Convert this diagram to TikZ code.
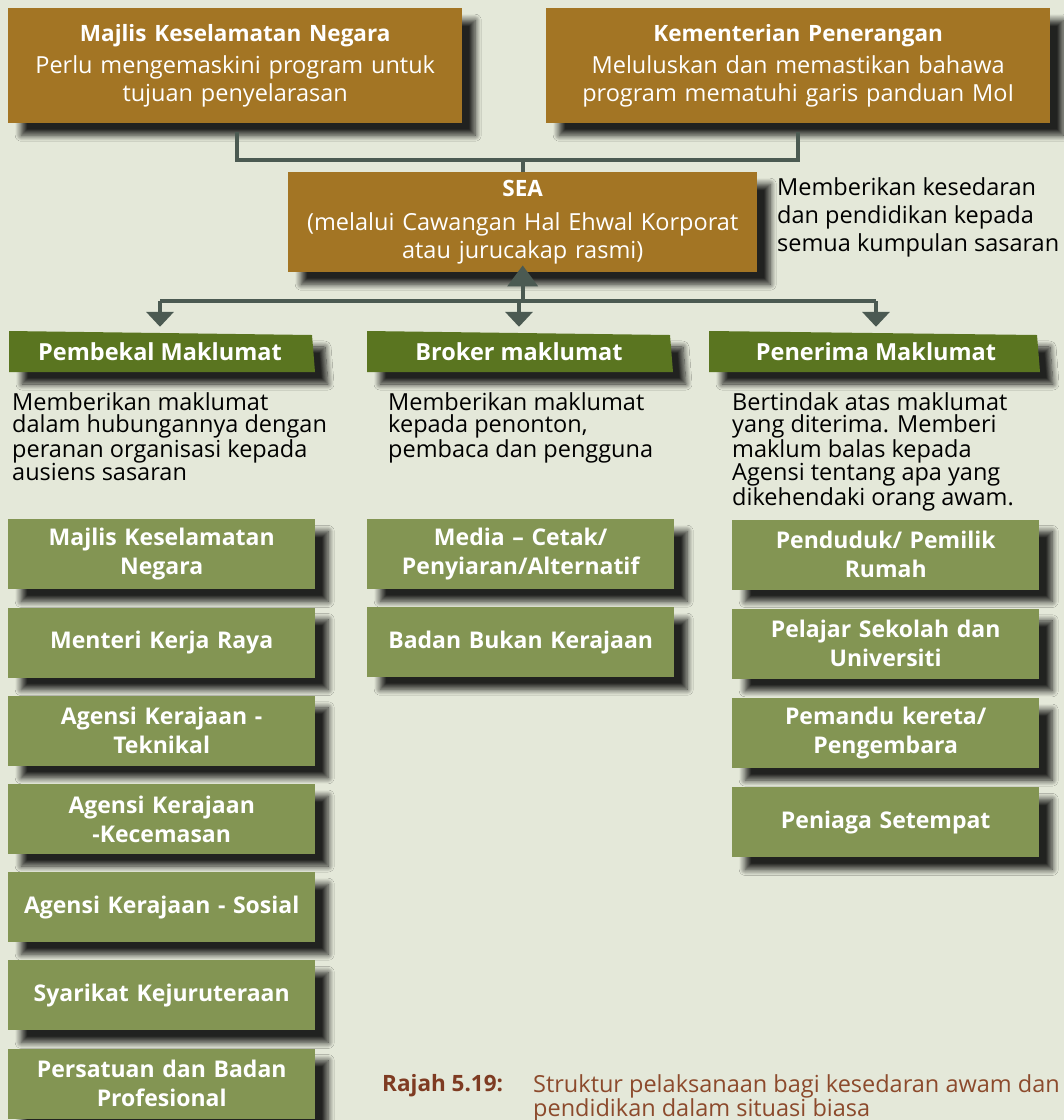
\documentclass[tikz,border=0pt]{standalone}
\usepackage{fontspec}
\setmainfont{Open Sans}
\usetikzlibrary{positioning,shadows.blur,arrows.meta}

\definecolor{bgcol}{HTML}{E4E8D9}
\definecolor{boxbrown}{HTML}{A37524}
\definecolor{hdrgreen}{HTML}{5A7520}
\definecolor{boxgreen}{HTML}{839553}
\definecolor{linecol}{HTML}{4B5A52}
\definecolor{capbrown}{HTML}{7E3B22}
\definecolor{captext}{HTML}{8C4A2C}

\tikzset{
  shade/.style={blur shadow={shadow xshift=13pt,shadow yshift=-12pt,
      shadow blur radius=6pt,shadow blur steps=10,shadow opacity=85}},
  topbox/.style={fill=boxbrown,text=white,align=center,anchor=north west,
      inner xsep=5pt,inner ysep=0pt,font=\fontsize{23.5}{28}\selectfont,shade},
  gbox/.style={fill=boxgreen,text=white,align=center,anchor=north west,
      text width=297pt,inner xsep=5pt,inner ysep=0pt,minimum height=70pt,
      font=\bfseries\fontsize{23}{29}\selectfont,shade},
  hdr/.style={text=white,inner sep=0pt,minimum height=41pt,
      font=\bfseries\fontsize{23.5}{26}\selectfont},
  desc/.style={anchor=north west,align=left,inner sep=0pt,
      font=\fontsize{23.5}{22.5}\selectfont},
  conn/.style={draw=linecol,line width=4pt},
  arr/.style={conn,-{Triangle[width=27pt,length=15pt]}},
}

\begin{document}
\begin{tikzpicture}[x=1pt,y=-1pt]
  \fill[bgcol] (0,0) rectangle (1064,1120);
  \useasboundingbox (0,0) rectangle (1064,1120);

  % top level
  \node[topbox,text width=444pt,minimum height=115pt] (mkn) at (8,8)
    {{\bfseries\fontsize{22.5}{28}\selectfont Majlis Keselamatan Negara}\\[4pt]
     Perlu mengemaskini program untuk\\ tujuan penyelarasan};
  \node[topbox,text width=494pt,minimum height=115pt] (kp) at (546,8)
    {{\bfseries\fontsize{22.5}{28}\selectfont Kementerian Penerangan}\\[4pt]
     Meluluskan dan memastikan bahawa\\ program mematuhi garis panduan MoI};
  \node[topbox,text width=459pt,minimum height=100pt] (sea) at (288,172)
    {{\bfseries\fontsize{22.5}{28}\selectfont SEA}\\[6pt]
     (melalui Cawangan Hal Ehwal Korporat\\ atau jurucakap rasmi)};
  \node[desc,font=\fontsize{23.5}{28}\selectfont] (seanote) at (777,177)
    {Memberikan kesedaran\\ dan pendidikan kepada\\ semua kumpulan sasaran};

  \draw[conn] ([xshift=2pt,yshift=-9pt]mkn.south) -- ++(0,28)
    -| ([yshift=-9pt]kp.south);
  \draw[conn] (sea.north |- 0,160) -- (sea.north);

  % headers
  \fill[hdrgreen,shade] (9,331) -- (312,335) -- (315,372) -- (9,372) -- cycle;
  \fill[hdrgreen,shade] (367,331) -- (670,335) -- (673,372) -- (367,372) -- cycle;
  \fill[hdrgreen,shade] (709,331) -- (1037,335) -- (1040,372) -- (709,372) -- cycle;
  \node[hdr] (pembekal) at (160,351.5) {Pembekal Maklumat};
  \node[hdr] (broker) at (519,351.5) {Broker maklumat};
  \node[hdr] (penerima) at (876,351.5) {Penerima Maklumat};

  \coordinate (barL) at (160,301);
  \coordinate (barR) at (876,301);
  \draw[conn] (barL) -- (barR);
  \draw[conn,-{Triangle[width=30pt,length=21pt]}] (sea.south |- barL)
    -- ([yshift=7pt]sea.south);
  \foreach \n in {pembekal,broker,penerima}
    \draw[arr] (\n.north |- barL) -- ([yshift=4pt]\n.north);

  % descriptions
  \node[desc] (descA) at (12,392)
    {Memberikan maklumat\\ dalam hubungannya dengan\\ peranan organisasi kepada\\ ausiens sasaran};
  \node[desc] (descB) at (388,392)
    {Memberikan maklumat\\ kepada penonton,\\ pembaca dan pengguna};
  \node[desc] (descC) at (732,392)
    {Bertindak atas maklumat\\ yang diterima. Memberi\\ maklum balas kepada\\ Agensi tentang apa yang\\ dikehendaki orang awam.};

  % columns
  \foreach \t [count=\i] in {{Majlis Keselamatan\\ Negara},{Menteri Kerja Raya},
      {Agensi Kerajaan -\\ Teknikal},{Agensi Kerajaan\\ -Kecemasan},
      {Agensi Kerajaan - Sosial},{Syarikat Kejuruteraan},
      {Persatuan dan Badan\\ Profesional}}
    \node[gbox] (pem\i) at (8,{431+88.2*\i}) {\t};
  \foreach \t [count=\i] in {{Media -- Cetak/\\ Penyiaran/Alternatif},
      {Badan Bukan Kerajaan}}
    \node[gbox] (bro\i) at (367,{431+88*\i}) {\t};
  \foreach \t [count=\i] in {{Penduduk/ Pemilik\\ Rumah},
      {Pelajar Sekolah dan\\ Universiti},{Pemandu kereta/\\ Pengembara},
      {Peniaga Setempat}}
    \node[gbox] (pen\i) at (732,{430+89.3*\i}) {\t};

  % caption
  \node[desc,text=capbrown,font=\bfseries\fontsize{22.5}{21}\selectfont] (caplab)
    at (382,1074) {Rajah 5.19:};
  \node[desc,text=captext,font=\fontsize{23.5}{21}\selectfont] (captxt)
    at (533,1074) {Struktur pelaksanaan bagi kesedaran awam dan\\ pendidikan dalam situasi biasa};
\end{tikzpicture}
\end{document}
